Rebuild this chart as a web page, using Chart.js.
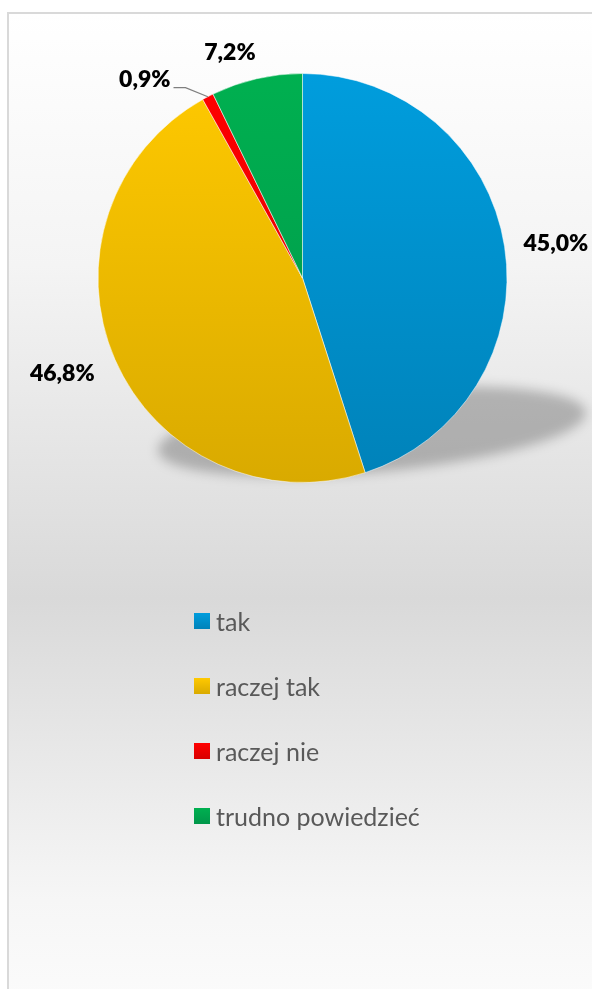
<!DOCTYPE html>
<html lang="pl">
<head>
<meta charset="utf-8">
<title>Wykres kołowy</title>
<script src="https://cdn.jsdelivr.net/npm/chart.js@4/dist/chart.umd.min.js"></script>
<style>
  html, body { margin: 0; padding: 0; width: 592px; height: 989px; overflow: hidden; background: #fff; }
  #frame {
    position: absolute; left: 7px; top: 12px; width: 620px; height: 1010px;
    border: 2px solid #d9d9d9; box-sizing: border-box;
    background: linear-gradient(to bottom, #ffffff 0%, #f4f4f4 25%, #d9d9d9 58%, #f6f6f6 88%, #fcfcfc 100%);
  }
  #wrap { position: absolute; left: 0; top: 0; width: 592px; height: 989px; }
  #legend { position: absolute; left: 194px; top: 611px; font-family: Lato, "Open Sans", sans-serif; }
  .item { display: flex; align-items: center; height: 20px; margin-bottom: 45px; color: #595959; font-size: 25px; }
  .box { width: 16px; height: 16px; margin-right: 6px; flex: none; }
</style>
</head>
<body>
<div id="frame"></div>
<div id="wrap"><canvas id="chartPie" width="592" height="989"></canvas></div>
<div id="legend"></div>
<script>
// odpowiedzi (kolejność zgodna z ruchem wskazówek zegara od godz. 12)
const labels = ['tak', 'raczej tak', 'raczej nie', 'trudno powiedzieć'];
const values = [45.0, 46.8, 0.9, 7.2];
const valueLabels = ['45,0%', '46,8%', '0,9%', '7,2%'];

// kolory: [góra, dół] gradientu
const COLORS = [
  ['#009ddd', '#0082b9'], // niebieski
  ['#ffc900', '#d9aa00'], // żółty
  ['#ff0000', '#d80000'], // czerwony
  ['#00b050', '#00964a']  // zielony
];

function sliceFill(ctx) {
  const chart = ctx.chart;
  const area = chart.chartArea;
  if (!area) return COLORS[ctx.dataIndex][0];
  const g = chart.ctx.createLinearGradient(0, area.top, 0, area.bottom);
  g.addColorStop(0, COLORS[ctx.dataIndex][0]);
  g.addColorStop(1, COLORS[ctx.dataIndex][1]);
  return g;
}

// cień pod kołem
const shadowPlugin = {
  id: 'pieShadow',
  beforeDatasetsDraw(chart) {
    const arc = chart.getDatasetMeta(0).data[0];
    if (!arc) return;
    const r = arc.outerRadius;
    const c = chart.ctx;
    c.save();
    c.filter = 'blur(6px)';
    c.fillStyle = 'rgba(0,0,0,0.24)';
    c.beginPath();
    c.ellipse(arc.x + r * 0.34, arc.y + r * 0.75, r * 1.05, r * 0.2, -0.09, 0, Math.PI * 2);
    c.fill();
    c.restore();
  }
};

// etykiety wartości
const labelPlugin = {
  id: 'valueLabels',
  afterDatasetsDraw(chart, args, opts) {
    const c = chart.ctx;
    const meta = chart.getDatasetMeta(0);
    c.save();
    c.font = '800 23px Lato, "Open Sans", sans-serif';
    c.fillStyle = '#000';
    c.textAlign = 'center';
    c.textBaseline = 'middle';
    meta.data.forEach((arc, i) => {
      const mid = (arc.startAngle + arc.endAngle) / 2;
      const d = arc.outerRadius + opts.offset;
      const n = opts.nudge[i] || [0, 0];
      const x = arc.x + Math.cos(mid) * d + n[0];
      const y = arc.y + Math.sin(mid) * d + n[1];
      c.fillText(valueLabels[i], x, y);
      if (opts.leader.includes(i)) {
        const w = c.measureText(valueLabels[i]).width;
        const ex = arc.x + Math.cos(mid) * arc.outerRadius;
        const ey = arc.y + Math.sin(mid) * arc.outerRadius;
        c.strokeStyle = '#7f7f7f';
        c.lineWidth = 1.2;
        c.beginPath();
        c.moveTo(x + w / 2 + 3, y + 8);
        c.lineTo(x + w / 2 + 15, y + 8);
        c.lineTo(ex, ey);
        c.stroke();
      }
    });
    c.restore();
  }
};

new Chart(document.getElementById('chartPie'), {
  type: 'pie',
  data: {
    labels,
    datasets: [{
      data: values,
      backgroundColor: sliceFill,
      borderColor: 'rgba(255,255,255,0.5)',
      borderWidth: 1,
      hoverOffset: 0
    }]
  },
  options: {
    responsive: false,
    animation: false,
    events: [],
    layout: { padding: { left: 97, right: 84, top: 73, bottom: 506 } },
    plugins: {
      legend: { display: false },
      tooltip: { enabled: false },
      valueLabels: {
        offset: 52,
        nudge: [[0, 5], [-5, -7], [-39, 29], [-15, 25]],
        leader: [2]
      }
    }
  },
  plugins: [shadowPlugin, labelPlugin]
});

// legenda jako zwykły tekst HTML
const legend = document.getElementById('legend');
labels.forEach((l, i) => {
  const row = document.createElement('div');
  row.className = 'item';
  const box = document.createElement('span');
  box.className = 'box';
  box.style.background = `linear-gradient(${COLORS[i][0]}, ${COLORS[i][1]})`;
  const t = document.createElement('span');
  t.textContent = l;
  row.appendChild(box);
  row.appendChild(t);
  legend.appendChild(row);
});
</script>
</body>
</html>
